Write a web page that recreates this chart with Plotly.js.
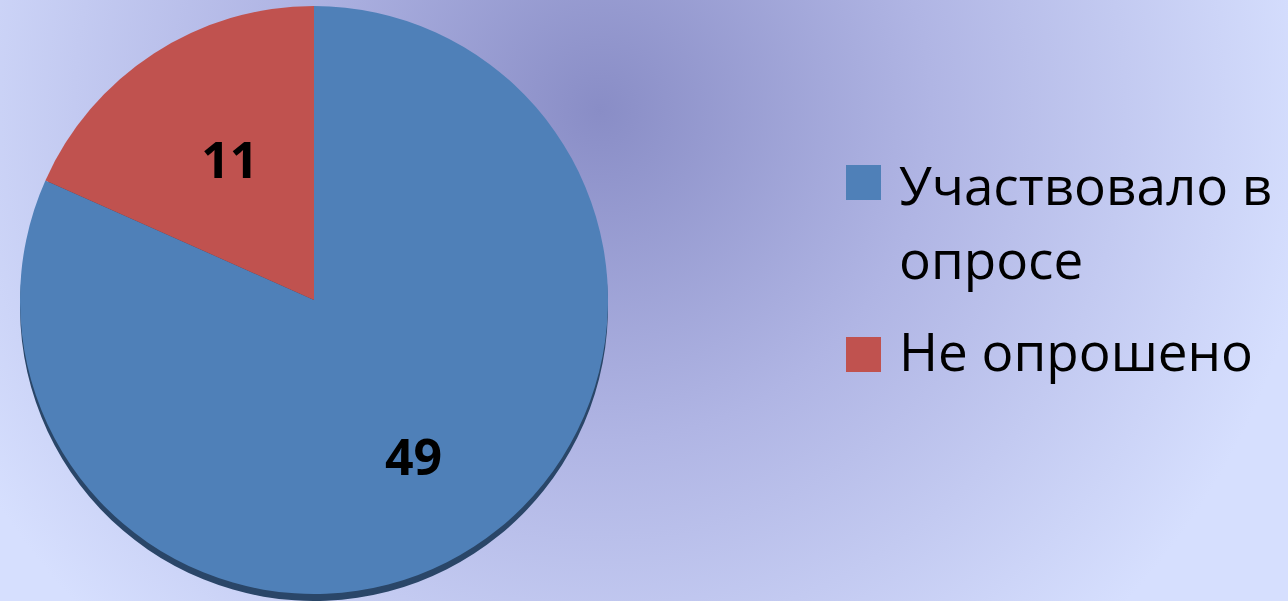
<!DOCTYPE html>
<html>
<head>
<meta charset="utf-8">
<script src="https://cdn.plot.ly/plotly-3.0.1.min.js"></script>
<style>
html,body{margin:0;padding:0;width:1288px;height:601px;overflow:hidden;}
body{background:radial-gradient(circle 720px at 600px 110px,#898dc6 0%,#b0b5e4 46%,#d6dffe 100%);}
#chart{width:1288px;height:601px;}
</style>
</head>
<body>
<div id="chart"></div>
<script>
const categories = ["Участвовало в опросе", "Не опрошено"];
const legendLines = [["Участвовало в", "опросе"], ["Не опрошено"]];
const values = [49, 11];
const colors = ["#4f80b8", "#c0524f"];

const W = 1288, H = 601;
const px = (x) => x / W;
const py = (y) => 1 - y / H;

const shadow = {
  type: "pie", labels: categories, values: values, sort: false,
  direction: "clockwise", rotation: 0, textinfo: "none", hoverinfo: "skip",
  marker: {colors: ["#2a4668", "#2a4668"], line: {width: 0}},
  domain: {x: [px(20), px(608)], y: [py(601), py(13)]},
  showlegend: false
};
const main = {
  type: "pie", labels: categories, values: values, sort: false,
  direction: "clockwise", rotation: 0,
  texttemplate: [
    "\u00a0<br>\u00a0\u00a0\u00a0%{value}",
    "<span style='font-size:24px'>\u00a0</span><br>\u00a0\u00a0\u00a0%{value}"
  ],
  textposition: "inside", insidetextorientation: "horizontal",
  textfont: {family: "Open Sans, sans-serif", size: 50, color: "#000000", weight: 700},
  marker: {colors: colors, line: {width: 0}},
  domain: {x: [px(20), px(608)], y: [py(594), py(6)]},
  showlegend: false
};

const shapes = [];
const annotations = [];
const boxes = [[165, 200], [337, 372]];
const lineY = [[185, 258], [350]];
legendLines.forEach((lines, i) => {
  shapes.push({type: "rect", xref: "paper", yref: "paper",
    x0: px(846), x1: px(881), y0: py(boxes[i][1]), y1: py(boxes[i][0]),
    fillcolor: colors[i], line: {width: 0}});
  lines.forEach((t, j) => {
    annotations.push({xref: "paper", yref: "paper", x: px(897), y: py(lineY[i][j]),
      xanchor: "left", yanchor: "middle", showarrow: false, text: t,
      font: {family: "Open Sans, sans-serif", size: 53, color: "#000000"}});
  });
});

Plotly.newPlot("chart", [shadow, main], {
  width: W, height: H, margin: {l: 0, r: 0, t: 0, b: 0},
  paper_bgcolor: "rgba(0,0,0,0)", plot_bgcolor: "rgba(0,0,0,0)",
  showlegend: false, shapes: shapes, annotations: annotations
}, {staticPlot: true});
</script>
</body>
</html>
